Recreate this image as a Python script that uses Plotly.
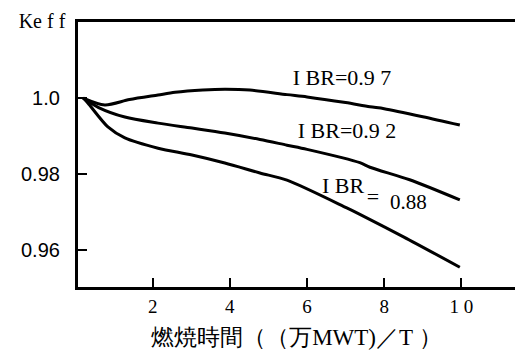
import plotly.graph_objects as go

# Burnup (10^4 MWD/T) and Keff for three IBR values
x_097 = [0.2, 0.76, 1.4, 2.14, 2.58, 3.3, 3.87, 4.52, 5.48, 6.0, 7.0, 7.63, 8.0, 9.0, 9.96]
y_097 = [1.0, 0.9982, 0.9996, 1.0008, 1.0015, 1.0021, 1.0023, 1.0021, 1.0009, 1.0003, 0.9988, 0.9977, 0.9972, 0.9951, 0.9929]

x_092 = [0.2, 0.6, 1.28, 2.14, 3.02, 3.87, 4.78, 5.48, 6.0, 7.37, 7.63, 8.66, 9.96]
y_092 = [1.0, 0.9975, 0.9950, 0.9934, 0.9921, 0.9908, 0.9891, 0.9876, 0.9865, 0.9830, 0.9818, 0.9785, 0.9732]

x_088 = [0.2, 0.32, 0.84, 1.28, 2.14, 3.02, 3.87, 4.78, 5.48, 7.03, 7.37, 8.5, 9.96]
y_088 = [1.0, 0.9987, 0.9924, 0.9895, 0.9868, 0.9850, 0.9829, 0.9803, 0.9784, 0.9711, 0.9694, 0.9635, 0.9555]

x_ticks = [2, 4, 6, 8, 10]
x_ticktext = ["2", "4", "6", "8", "1 0"]
y_ticks = [0.96, 0.98, 1.0]
y_ticktext = ["0.96", "0.98", "1.0"]

curve_labels = ["I BR=0.9 7", "I BR=0.9 2", "I BR", "=", "0.88"]
label_x = [5.63, 5.76, 6.39, 7.55, 8.15]
label_y = [1.005, 0.99105, 0.9766, 0.9735, 0.9722]

y_title = "Ke f f"
x_title = "燃焼時間（（万MWT)／T ）"

serif = "Liberation Serif"
sans = "Liberation Sans"
pad = "\u00a0\u00a0"

fig = go.Figure()
line = dict(color="black", width=3, shape="spline", smoothing=0.8)
for xs, ys in [(x_097, y_097), (x_092, y_092), (x_088, y_088)]:
    fig.add_trace(go.Scatter(x=xs, y=ys, mode="lines", line=line,
                             showlegend=False, hoverinfo="skip"))

fig.add_trace(go.Scatter(
    x=label_x, y=label_y, mode="text",
    text=[t.replace(" ", "\u00a0") for t in curve_labels],
    textposition="middle right", cliponaxis=False,
    textfont=dict(family=serif, size=[22, 22, 22, 22, 21], color="black"),
    showlegend=False, hoverinfo="skip"))

fig.update_layout(
    width=516, height=362,
    margin=dict(l=78, r=1, t=22, b=75),
    paper_bgcolor="white", plot_bgcolor="white",
    title=dict(text=y_title.replace(" ", "\u00a0"), x=42 / 516, xanchor="center",
               y=1 - 21 / 362, yanchor="middle", xref="container", yref="container",
               font=dict(family=serif, size=20, color="black")),
    xaxis=dict(range=[0.065, 11.39], tickvals=x_ticks, ticktext=x_ticktext,
               showgrid=False, zeroline=False, showline=True, linecolor="black",
               linewidth=3, mirror=True, ticks="inside", ticklen=9, tickwidth=2,
               tickcolor="black", tickfont=dict(family=serif, size=19, color="black"),
               automargin=False,
               title=dict(text=x_title.replace(" ", "\u00a0"), standoff=14,
                          font=dict(family=serif, size=23, color="black"))),
    yaxis=dict(range=[0.9503, 1.02], tickvals=y_ticks,
               ticktext=[t + pad for t in y_ticktext],
               showgrid=False, zeroline=False, showline=True, linecolor="black",
               linewidth=3, ticks="inside", ticklen=9, tickwidth=2,
               tickcolor="black", tickfont=dict(family=sans, size=20, color="black"),
               automargin=False),
)

fig.write_html("out.html")
